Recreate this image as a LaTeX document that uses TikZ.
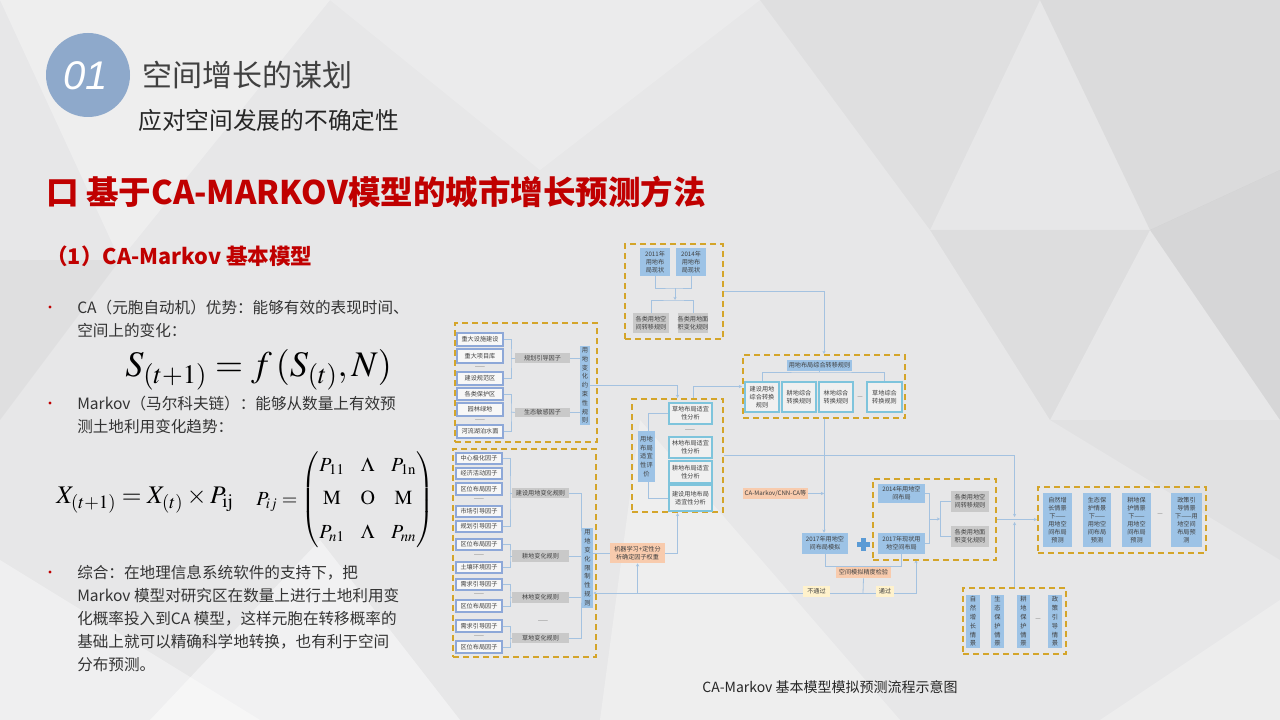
\documentclass[tikz,border=0pt]{standalone}
\usepackage{amsmath}
\usepackage{mathptmx}
\usepackage[no-math]{fontspec}
\setmainfont{Noto Sans CJK SC}
\newfontfamily\numfont{Liberation Sans}
\usetikzlibrary{arrows.meta}
\pgfdeclarelayer{bgl}
\pgfdeclarelayer{cnl}
\pgfsetlayers{bgl,cnl,main}
\definecolor{dashy}{HTML}{D4A52A}
\definecolor{bluef}{HTML}{9DC3E6}
\definecolor{lineb}{HTML}{A4C2E0}
\definecolor{cyanb}{HTML}{7EC4DC}
\definecolor{fboxb}{HTML}{8EA8D8}
\definecolor{grayf}{HTML}{C9C9C9}
\definecolor{orangef}{HTML}{F8CBAD}
\definecolor{yellowf}{HTML}{FFF2CC}
\definecolor{txtd}{HTML}{404040}
\definecolor{redt}{HTML}{C00000}
\definecolor{circb}{HTML}{8EA9CB}
\definecolor{bgc}{HTML}{E7E7E8}
\definecolor{plusb}{HTML}{5B9BD5}
\newcommand\bx[7]{\node[#6, minimum width={(#4-#2)*0.75pt}, minimum height={(#5-#3)*0.75pt}] (#1) at ({(#2+#4)/2},{(#3+#5)/2}) {#7};}
\tikzset{
  fc/.style={font=\fontsize{4.6}{6}\selectfont, text=txtd, align=center, inner sep=0pt},
  vc/.style={font=\fontsize{4.7}{6.6}\selectfont, text=txtd, align=center, inner sep=0pt},
  bluebox/.style={fc, fill=bluef},
  bluev/.style={vc, fill=bluef},
  graybox/.style={fc, fill=grayf},
  obox/.style={fc, fill=black!6, draw=cyanb, line width=1.1pt},
  fbox/.style={fc, fill=black!3, draw=fboxb, line width=0.8pt},
  orbox/.style={fc, fill=orangef},
  yebox/.style={fc, fill=yellowf},
  dbox/.style={draw=dashy, line width=1.5pt, dash pattern=on 4.5pt off 3pt, inner sep=0pt},
  dsh/.style={fc, text=txtd!70},
  conn/.style={draw=lineb, line width=0.6pt},
  arr/.style={conn, -{Stealth[length=2.4pt,width=2.4pt]}},
  body/.style={font=\fontsize{11.7}{17.25}\selectfont, text=black!80, anchor=base west, inner sep=0pt},
}
\begin{document}
\begin{tikzpicture}[x=0.75pt,y=-0.75pt]
\useasboundingbox (0,0) rectangle (1280,720);
\begin{pgfonlayer}{bgl}
\fill[bgc] (0,0) rectangle (1280,720);
\fill[white,opacity=0.3] (0,0) -- (330,0) -- (120,260) -- cycle;
\fill[white,opacity=0.2] (330,0) -- (760,0) -- (540,170) -- cycle;
\fill[black,opacity=0.03] (760,0) -- (1040,0) -- (930,230) -- cycle;
\fill[black,opacity=0.05] (1040,0) -- (1280,0) -- (1280,170) -- (1150,230) -- cycle;
\fill[black,opacity=0.07] (1150,230) -- (1280,170) -- (1280,420) -- cycle;
\fill[black,opacity=0.04] (930,230) -- (1150,230) -- (1050,420) -- cycle;
\fill[black,opacity=0.025] (1050,420) -- (1280,420) -- (1280,560) -- cycle;
\fill[black,opacity=0.03] (0,260) -- (120,260) -- (0,420) -- cycle;
\fill[white,opacity=0.35] (0,560) -- (260,720) -- (0,720) -- cycle;
\fill[white,opacity=0.45] (150,720) -- (320,540) -- (460,720) -- cycle;
\fill[white,opacity=0.3] (640,420) -- (600,720) -- (900,720) -- cycle;
\fill[white,opacity=0.25] (1100,720) -- (1280,600) -- (1280,720) -- cycle;
\end{pgfonlayer}

% ---------- header ----------
\fill[circb] (88,75) circle[radius=31.5pt];
\node[text=white, font=\numfont\itshape\fontsize{30}{32}\selectfont] (num) at (86,76) {01};
\node[anchor=west, text=txtd, font=\fontsize{22.5}{26}\selectfont, inner sep=0pt] (t1) at (142,75) {空间增长的谋划};
\node[anchor=west, text=black!85, font=\fontsize{17.8}{20}\selectfont, inner sep=0pt] (t2) at (138,120) {应对空间发展的不确定性};
\node[anchor=west, text=redt, font=\bfseries\fontsize{24.4}{28}\selectfont, inner sep=0pt] (t3) at (46,192) {口 基于CA-MARKOV模型的城市增长预测方法};
\node[anchor=west, text=redt, font=\bfseries\fontsize{16.2}{18}\selectfont, inner sep=0pt] (t4) at (46,256) {（1）CA-Markov 基本模型};

% ---------- left text ----------
\fill[redt] (50,307) circle[radius=1.3pt];
\fill[redt] (50,403) circle[radius=1.3pt];
\fill[redt] (50,572) circle[radius=1.3pt];
\node[body] (b1a) at (77,313) {CA（元胞自动机）优势：能够有效的表现时间、};
\node[body] (b1b) at (77,336) {空间上的变化：};
\node[anchor=west, inner sep=0pt] (fs) at (125,370) {\fontsize{27}{30}\selectfont $S_{(t+1)}=f\,(S_{(t)},N)$};
\node[body] (b2a) at (77,409) {Markov（马尔科夫链）：能够从数量上有效预};
\node[body] (b2b) at (77,432) {测土地利用变化趋势：};
\node[anchor=west, inner sep=0pt] (fx) at (56,500) {\fontsize{19}{22}\selectfont $X_{(t+1)}=X_{(t)}\times P_{\mathrm{ij}}$};
\node[anchor=west, inner sep=0pt] (fm) at (256,500) {\fontsize{15}{18}\selectfont\setlength\arraycolsep{6pt}$P_{ij}=\begin{pmatrix}P_{11}&\Lambda&P_{1\mathrm{n}}\\[7pt] \mathrm{M}&\mathrm{O}&\mathrm{M}\\[7pt] P_{n1}&\Lambda&P_{nn}\end{pmatrix}$};
\node[body] (b3a) at (77,578) {综合：在地理信息系统软件的支持下，把};
\node[body] (b3b) at (77,601) {Markov 模型对研究区在数量上进行土地利用变};
\node[body] (b3c) at (77,624) {化概率投入到CA 模型，这样元胞在转移概率的};
\node[body] (b3d) at (77,647) {基础上就可以精确科学地转换，也有利于空间};
\node[body] (b3e) at (77,670) {分布预测。};

\node[text=black!85, font=\fontsize{10.5}{12}\selectfont] (cap) at (830,687) {CA-Markov 基本模型模拟预测流程示意图};

% ---------- flowchart: dashed containers ----------
\bx{tb}{625}{244}{723}{339}{dbox}{}
\bx{lt}{455}{323}{597}{442}{dbox}{}
\bx{lb}{453}{449}{596}{657}{dbox}{}
\bx{mb}{632}{399}{723}{512}{dbox}{}
\bx{rb}{743}{355}{905}{418}{dbox}{}
\bx{sd}{873}{479}{996}{560}{dbox}{}
\bx{rd}{1038}{487}{1206}{553}{dbox}{}
\bx{bd}{963}{588}{1066}{654}{dbox}{}

% top box
\bx{y2011}{640}{248}{670}{276}{bluebox}{2011年\\用地布\\局现状}
\bx{y2014}{676}{248}{706}{276}{bluebox}{2014年\\用地布\\局现状}
\bx{g1}{633}{313}{669}{333}{graybox}{各类用地空\\间转移规则}
\bx{g2}{678}{313}{708}{333}{graybox}{各类用地面\\积变化规则}
\coordinate (tj1) at (675,288);
\coordinate (tj2) at (675,300);

% left top
\bx{f1}{457}{333}{503}{346}{fbox}{重大设施建设}
\bx{f2}{457}{349}{503}{363}{fbox}{重大项目库}
\node[dsh] (d1) at (480,368) {——};
\bx{f3}{457}{372}{503}{385}{fbox}{建设规范区}
\bx{f4}{457}{388}{503}{400}{fbox}{各类保护区}
\bx{f5}{457}{403}{503}{416}{fbox}{园林绿地}
\node[dsh] (d2) at (480,421) {——};
\bx{f6}{457}{425}{503}{438}{fbox}{河流湖泊水面}
\bx{gl1}{515}{353}{570}{363}{graybox}{规划引导因子}
\bx{gl2}{515}{408}{570}{417}{graybox}{生态敏感因子}
\bx{bv1}{580}{346}{590}{425}{bluev}{用\\地\\变\\化\\约\\束\\性\\规\\则}
\coordinate (sp1) at (511,358);
\coordinate (sp2) at (511,412);

% left bottom
\bx{e1}{456}{453}{502}{464}{fbox}{中心极化因子}
\bx{e2}{456}{468}{502}{479}{fbox}{经济活动因子}
\bx{e3}{456}{483}{502}{495}{fbox}{区位布局因子}
\node[dsh] (d3) at (479,500) {——};
\bx{e4}{456}{506}{502}{517}{fbox}{市场引导因子}
\bx{e5}{456}{521}{502}{532}{fbox}{规划引导因子}
\bx{e6}{456}{539}{502}{550}{fbox}{区位布局因子}
\node[dsh] (d4) at (479,556) {——};
\bx{e7}{456}{562}{502}{573}{fbox}{土壤环境因子}
\bx{e8}{456}{579}{502}{590}{fbox}{需求引导因子}
\node[dsh] (d5) at (479,595) {——};
\bx{e9}{456}{600}{502}{612}{fbox}{区位布局因子}
\bx{e10}{456}{620}{502}{632}{fbox}{需求引导因子}
\node[dsh] (d6) at (479,637) {——};
\bx{e11}{456}{641}{502}{653}{fbox}{区位布局因子}
\bx{h1}{512}{488}{569}{498}{graybox}{建设用地变化规则}
\bx{h2}{512}{550}{569}{562}{graybox}{耕地变化规则}
\bx{h3}{512}{592}{569}{603}{graybox}{林地变化规则}
\node[dsh] (d7) at (543,622) {——};
\bx{h4}{512}{633}{569}{643}{graybox}{草地变化规则}
\bx{bv3}{582}{528}{593}{608}{bluev}{用\\地\\变\\化\\限\\制\\性\\规\\则}
\coordinate (bs1) at (510,493);
\coordinate (bs2) at (510,556);
\coordinate (bs3) at (510,597);
\coordinate (bs4) at (510,638);
\coordinate (bvsp) at (581,568);

% middle box
\bx{bv2}{638}{431}{655}{482}{bluev}{用地\\布局\\适宜\\性评\\价}
\bx{m1}{669}{403}{712}{424}{obox}{草地布局适宜\\性分析}
\node[dsh] (d8) at (690,431) {——};
\bx{m2}{669}{437}{712}{458}{obox}{林地布局适宜\\性分析}
\bx{m3}{669}{461}{712}{483}{obox}{耕地布局适宜\\性分析}
\bx{m4}{669}{485}{712}{511}{obox}{建设用地布局\\适宜性分析}
\coordinate (ms) at (648,455);
\coordinate (mt2) at (693,399);

% right top box
\bx{rh}{787}{360}{852}{371}{bluebox}{用地布局综合转移规则}
\bx{r1}{745}{382}{779}{412}{obox}{建设用地\\综合转换\\规则}
\bx{r2}{782}{382}{816}{412}{obox}{耕地综合\\转换规则}
\bx{r3}{819}{382}{853}{412}{obox}{林地综合\\转换规则}
\node[dsh] (d9) at (860,398) {—};
\bx{r4}{867}{382}{902}{412}{obox}{草地综合\\转换规则}
\coordinate (rj) at (819.5,372);

% simulation part
\bx{cam}{743}{488}{808}{499}{orbox}{CA-Markov/CNN-CA等}
\bx{sim}{802}{533}{848}{554}{bluebox}{2017年用地空\\间布局模拟}
\fill[plusb] (861,538) rectangle (866,551);
\fill[plusb] (857,542) rectangle (870,547);
\bx{s1}{878}{484}{925}{503}{bluebox}{2014年用地空\\间布局}
\bx{s2}{878}{533}{925}{554}{bluebox}{2017年现状用\\地空间布局}
\bx{sg1}{951}{491}{989}{512}{graybox}{各类用地空\\间转移规则}
\bx{sg2}{951}{526}{989}{547}{graybox}{各类用地面\\积变化规则}
\coordinate (sj1) at (929,519);
\coordinate (sj2) at (940,519);
\bx{chk}{836}{567}{891}{578}{orbox}{空间模拟精度检验}
\bx{nop}{803}{586}{830}{597}{yebox}{不通过}
\bx{okp}{876}{586}{894}{597}{yebox}{通过}
\coordinate (fbj) at (863,593);
\coordinate (sdb) at (916,560);
\bx{ml}{610}{543}{665}{563}{orbox}{机器学习+定性分\\析确定因子权重}

% scenarios
\bx{p1}{1043}{493}{1072}{547}{bluebox}{自然增\\长情景\\下——\\用地空\\间布局\\预测}
\bx{p2}{1083}{493}{1111}{547}{bluebox}{生态保\\护情景\\下——\\用地空\\间布局\\预测}
\bx{p3}{1122}{493}{1151}{547}{bluebox}{耕地保\\护情景\\下——\\用地空\\间布局\\预测}
\node[dsh] (d10) at (1160,515) {—};
\bx{p4}{1171}{493}{1202}{547}{bluebox}{政策引\\导情景\\下——用\\地空间\\布局预\\测}
\bx{q1}{966}{595}{980}{648}{bluev}{自\\然\\增\\长\\情\\景}
\bx{q2}{991}{595}{1004}{648}{bluev}{生\\态\\保\\护\\情\\景}
\bx{q3}{1017}{595}{1030}{648}{bluev}{耕\\地\\保\\护\\情\\景}
\node[dsh] (d11) at (1038,620) {—};
\bx{q4}{1048}{595}{1062}{648}{bluev}{政\\策\\引\\导\\情\\景}
\coordinate (jr1) at (1014.5,517);
\coordinate (jr2) at (1014.5,522);

% ---------- connectors ----------
\begin{pgfonlayer}{cnl}
\draw[conn] (y2011.south) |- (tj1) -| (y2014.south);
\draw[arr] (tj1) -- (tj2);
\draw[conn] (g1.north) |- (tj2) -| (g2.north);
\draw[arr] (tb.east) -| (rb.north);
\draw[conn] (f1.east) -| (sp1) |- (f3.east);
\draw[conn] (sp1) -- (gl1.west);
\draw[conn] (f4.east) -| (sp2) |- (f6.east);
\draw[conn] (sp2) -- (gl2.west);
\draw[conn] (gl1.east) -- (gl1.east -| bv1.west);
\draw[conn] (gl2.east) -- (gl2.east -| bv1.west);
\draw[arr] (bv1.east) -| (mb.north);
\draw[arr] (mt2) |- (rb.west);
\draw[conn] (r1.north) |- (rj) -| (r4.north);
\draw[conn] (rh.south) -- (rj);
\draw[conn] (m1.west) -| (ms) |- (m4.west);
\draw[arr] (rb.south) -- (rb.south |- sim.north);
\draw[arr] (cam.east) -- (cam.east -| rb.south);
\draw[arr] (mb.east) -| (jr1);
\draw[arr] (bd.north) -- (jr2);
\draw[arr] (sd.east) -- (sd.east -| rd.west);
\draw[conn] (s1.east) -| (sj1) |- (s2.east);
\draw[arr] (sj1) -- (sj2);
\draw[conn] (sg1.west) -| (sj2) |- (sg2.west);
\draw[conn] (sim.south) |- (chk.north) -| (s2.south);
\draw[conn] (chk.south) -- (fbj);
\draw[arr] (fbj) -| (sdb);
\draw[arr] (fbj) -- (fbj -| bv3.east);
\draw[arr] (fbj -| ml.south) -- (ml.south);
\draw[arr] (ml.east) -| (mb.south);
\draw[conn] (ml.west) -- (ml.west -| bv3.east);
\draw[conn] (e1.east) -| (bs1) |- (e5.east);
\draw[conn] (bs1) -- (h1.west);
\draw[conn] (e6.east) -| (bs2) |- (e7.east);
\draw[conn] (bs2) -- (h2.west);
\draw[conn] (e8.east) -| (bs3) |- (e9.east);
\draw[conn] (bs3) -- (h3.west);
\draw[conn] (e10.east) -| (bs4) |- (e11.east);
\draw[conn] (bs4) -- (h4.west);
\draw[conn] (h1.east) -| (bvsp) |- (h4.east);
\draw[conn] (h2.east) -- (h2.east -| bvsp);
\draw[conn] (h3.east) -- (h3.east -| bvsp);
\end{pgfonlayer}
\end{tikzpicture}
\end{document}
